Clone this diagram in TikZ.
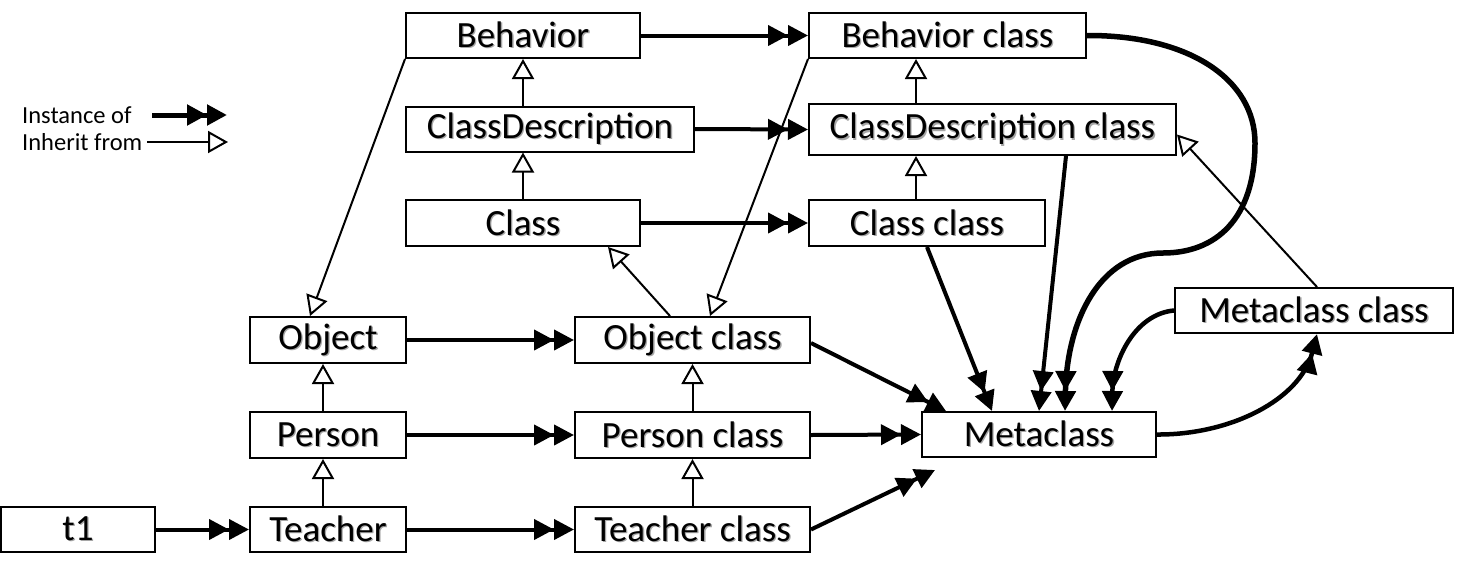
\documentclass[tikz,border=0pt]{standalone}
\usepackage{fontspec}
\setmainfont{Carlito}
\usetikzlibrary{arrows.meta}
\newcommand\shd[1]{\leavevmode\rlap{\kern1.3pt\raisebox{-1.3pt}{\textcolor{black!35}{#1}}}#1}
\begin{document}
\begin{tikzpicture}[x=1pt,y=-1pt,
 box/.style={draw, line width=2pt, inner sep=0pt, font=\fontsize{37}{40}\selectfont, minimum height=45pt},
 inst/.style={line width=4pt, -{Triangle[length=20pt,width=20pt]Triangle[length=20pt,width=20pt]}},
 inh/.style={line width=2pt, -{Triangle[length=20pt,width=22pt,fill=white,line width=2pt]}},
 legtext/.style={font=\fontsize{24.5}{28}\selectfont, anchor=west, inner sep=0pt}]
\useasboundingbox[fill=white] (0,0) rectangle (1457,579);
% nodes
\node[box, minimum width=234pt] (beh) at (523,35.5) {\shd{Behavior}};
\node[box, minimum width=288pt] (cd) at (550,129) {\shd{ClassDescription}};
\node[box, minimum width=234pt, minimum height=46pt] (cls) at (523,223) {\shd{Class}};
\node[box, minimum width=277pt] (bc) at (947.5,35.5) {\shd{Behavior class}};
\node[box, minimum width=367pt, minimum height=51pt] (cdc) at (992.5,129.5) {\shd{ClassDescription class}};
\node[box, minimum width=236pt, minimum height=46pt] (cc) at (927,223) {\shd{Class class}};
\node[box, minimum width=156pt, minimum height=46pt] (obj) at (328,340) {\shd{Object}};
\node[box, minimum width=156pt, minimum height=46pt] (per) at (328,435) {\shd{Person}};
\node[box, minimum width=156pt] (tea) at (328,529.5) {\shd{Teacher}};
\node[box, minimum width=154pt] (t1) at (78,529.5) {\shd{t1}};
\node[box, minimum width=235pt, minimum height=46pt] (oc) at (692.5,340) {\shd{Object class}};
\node[box, minimum width=235pt, minimum height=46pt] (pc) at (692.5,435) {\shd{Person class}};
\node[box, minimum width=235pt] (tc) at (692.5,529.5) {\shd{Teacher class}};
\node[box, minimum width=234pt] (mc) at (1039,434.5) {\shd{Metaclass}};
\node[box, minimum width=278pt] (mcc) at (1314,310.5) {\shd{Metaclass class}};
% inheritance
\draw[inh] ([xshift=-5pt]tea.north) -- ([xshift=-5pt]per.south);
\draw[inh] ([xshift=-5pt]per.north) -- ([xshift=-5pt]obj.south);
\draw[inh] (tc.north) -- (pc.south);
\draw[inh] (pc.north) -- (oc.south);
\draw[inh] (cls.north) -- (cls.north |- cd.south);
\draw[inh] (beh.south |- cd.north) -- (beh.south);
\draw[inh] ([xshift=-11pt]cc.north) -- ([xshift=-11pt]cc.north |- cdc.south);
\draw[inh] ([xshift=-11pt]cc.north |- cdc.north) -- ([xshift=-11pt]cc.north |- bc.south);
\draw[inh] ([xshift=-22.5pt]oc.north) -- ([xshift=85pt]cls.south);
\draw[inh] (bc.south west) -- ([xshift=17.5pt]oc.north);
\draw[inh] (beh.south west) -- ([xshift=-18pt]obj.north);
\draw[inh] ([xshift=3pt]mcc.north) -- ([yshift=-5pt]cdc.east);
% instance of
\draw[inst] (t1.east) -- (tea.west);
\draw[inst] (tea.east) -- (tc.west);
\draw[inst] (per.east) -- (pc.west);
\draw[inst] (obj.east) -- (oc.west);
\draw[inst] (beh.east) -- (bc.west);
\draw[inst] (cd.east) -- (cdc.west);
\draw[inst] (cls.east) -- (cc.west);
\draw[inst] (tc.east) -- ([xshift=14pt,yshift=-12pt]mc.south west);
\draw[inst] (pc.east) -- (mc.west);
\draw[inst] ([yshift=-3pt]oc.east) -- ([xshift=25pt]mc.north west);
\draw[inst] (cc.south) -- ([xshift=71pt]mc.north west);
\draw[inst] ([xshift=73.5pt]cdc.south) -- (mc.north);
\draw[inst, line width=5.5pt] (bc.east) .. controls (1190,35) and (1255,80) .. (1255,143)
  .. controls (1255,220) and (1215,253) .. (1163,253)
  .. controls (1100,253) and (1067,320) .. ([xshift=26pt]mc.north);
\draw[inst, line width=4.5pt] (mcc.west) .. controls (1135,314) and (1113,360) .. ([xshift=73pt]mc.north);
\draw[inst, line width=4.5pt] (mc.east) .. controls (1230,435) and (1300,400) .. ([xshift=3pt]mcc.south);
% legend
\node[legtext] (li) at (22,115) {Instance of};
\node[legtext] (lh) at (22,142) {Inherit from};
\coordinate (lia) at (152,115);
\coordinate (lib) at (227,115);
\coordinate (lha) at (147,142);
\coordinate (lhb) at (228,142);
\draw[inst, line width=5pt] (lia) -- (lib);
\draw[inh] (lha) -- (lhb);
\end{tikzpicture}
\end{document}
